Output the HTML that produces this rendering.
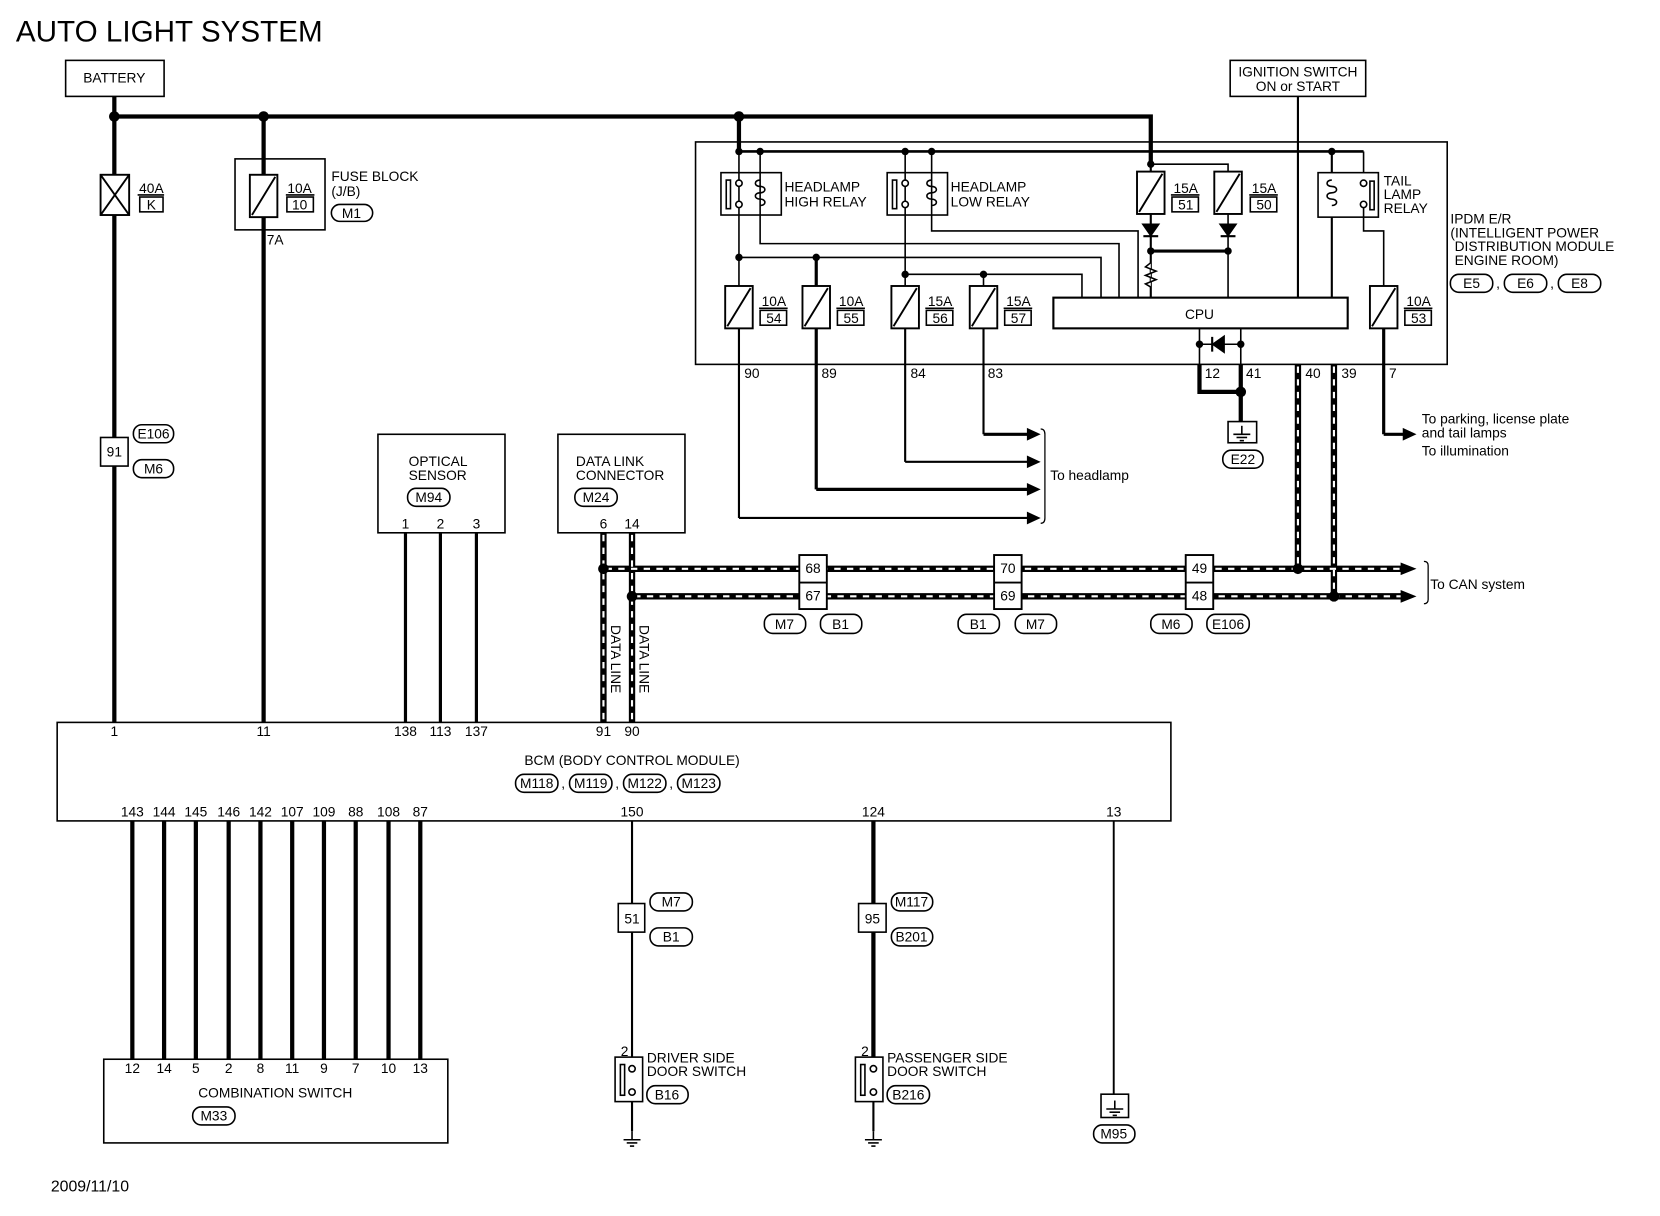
<!DOCTYPE html>
<html><head><meta charset="utf-8"><style>
html,body{margin:0;padding:0;background:#fff;}
svg{display:block;}
text{font-family:"Liberation Sans",sans-serif;font-size:13px;fill:#000;}
</style></head><body>
<svg width="1660" height="1216" viewBox="0 0 1568 1148" preserveAspectRatio="none" xmlns="http://www.w3.org/2000/svg">
<defs>
<g id="fuse"><rect x="-13" y="0" width="26" height="40" fill="#fff" stroke="#000" stroke-width="1.8"/><line x1="-11" y1="38" x2="11" y2="2" stroke="#000" stroke-width="1.8"/></g>
<g id="dot"><circle r="5" fill="#000"/></g>
<g id="sdot"><circle r="3.5" fill="#000"/></g>
<g id="gnd"><line x1="0" y1="0" x2="0" y2="8" stroke="#000" stroke-width="1.5"/><line x1="-8" y1="8" x2="8" y2="8" stroke="#000" stroke-width="1.5"/><line x1="-5" y1="11" x2="5" y2="11" stroke="#000" stroke-width="1.5"/><line x1="-2" y1="14" x2="2" y2="14" stroke="#000" stroke-width="1.5"/></g>
</defs>
<g fill="none" stroke="#000">
<rect x="62" y="57" width="93" height="34" stroke-width="1.5"/>
<polyline points="108,91 108,682" stroke-width="4"/>
<polyline points="108,110 1087,110 1087,155" stroke-width="4"/>
<line x1="249" y1="110" x2="249" y2="682" stroke-width="4"/>
<line x1="698" y1="110" x2="698" y2="143" stroke-width="4"/>
<rect x="95" y="165" width="27" height="38" fill="#fff" stroke-width="1.8"/>
<line x1="95" y1="165" x2="122" y2="203" stroke-width="1.8"/><line x1="122" y1="165" x2="95" y2="203" stroke-width="1.8"/>
<line x1="130" y1="184" x2="155" y2="184" stroke-width="1.5"/>
<rect x="132" y="186" width="22" height="14" stroke-width="1.5"/>
<rect x="222" y="150" width="85" height="67" stroke-width="1.5"/>
<line x1="270" y1="184" x2="297" y2="184" stroke-width="1.5"/>
<rect x="271" y="186" width="25" height="14" stroke-width="1.5"/>
<rect x="313" y="193" width="39" height="16" rx="8" stroke-width="1.5"/>
<rect x="95" y="413" width="26" height="27" fill="#fff" stroke-width="1.5"/>
<rect x="126" y="401" width="38" height="17" rx="8" stroke-width="1.5"/>
<rect x="126" y="434" width="38" height="17" rx="8" stroke-width="1.5"/>
<rect x="1162" y="57" width="128" height="34" stroke-width="1.5"/>
<line x1="1226" y1="91" x2="1226" y2="281" stroke-width="2"/>
<rect x="657" y="134" width="710" height="210" stroke-width="1.5"/>
<line x1="698" y1="143" x2="1288" y2="143" stroke-width="2.5"/>
<polyline points="1087,155 1160,155 1160,162" stroke-width="1.5"/>
<rect x="681" y="163" width="57" height="40" stroke-width="1.5"/>
<line x1="718" y1="143" x2="718" y2="203" stroke-width="1.5"/>
<line x1="698" y1="143" x2="698" y2="270" stroke-width="1.5"/>
<polyline points="718,203 718,230 1057,230 1057,281" stroke-width="1.5"/>
<polyline points="698,243 1040,243 1040,281" stroke-width="1.5"/>
<line x1="771" y1="243" x2="771" y2="270" stroke-width="3"/>
<rect x="838" y="163" width="57" height="40" stroke-width="1.5"/>
<line x1="880" y1="143" x2="880" y2="203" stroke-width="1.5"/>
<line x1="855" y1="143" x2="855" y2="270" stroke-width="1.5"/>
<polyline points="880,203 880,218 1075,218 1075,281" stroke-width="1.5"/>
<polyline points="855,259 1022,259 1022,281" stroke-width="1.5"/>
<line x1="929" y1="259" x2="929" y2="270" stroke-width="1.5"/>
<line x1="1087" y1="155" x2="1087" y2="281" stroke-width="2"/>
<line x1="1160" y1="162" x2="1160" y2="281" stroke-width="1.5"/>
<line x1="1087" y1="237" x2="1160" y2="237" stroke-width="3"/>
<polyline points="1087,248 1082,252 1092,256 1082,260 1092,264 1082,268 1087,271" fill="#fff" stroke-width="1.5"/>
<line x1="1258" y1="143" x2="1258" y2="281" stroke-width="2"/>
<line x1="1288" y1="143" x2="1288" y2="163" stroke-width="1.5"/>
<rect x="1245" y="163" width="57" height="42" fill="#fff" stroke-width="1.5"/>
<polyline points="1288,193 1288,218 1307,218 1307,270" stroke-width="1.5"/>
<rect x="995" y="281" width="278" height="29" fill="#fff" stroke-width="2"/>
<line x1="1133" y1="310" x2="1133" y2="344" stroke-width="1.5"/>
<line x1="1172" y1="310" x2="1172" y2="344" stroke-width="1.5"/>
<line x1="1133" y1="325" x2="1172" y2="325" stroke-width="1.5"/>
<line x1="698" y1="310" x2="698" y2="489" stroke-width="2"/>
<line x1="771" y1="310" x2="771" y2="462" stroke-width="3"/>
<line x1="855" y1="310" x2="855" y2="436" stroke-width="2"/>
<line x1="929" y1="310" x2="929" y2="410" stroke-width="2"/>
<line x1="698" y1="489" x2="972" y2="489" stroke-width="2"/>
<line x1="771" y1="462" x2="972" y2="462" stroke-width="3"/>
<line x1="855" y1="436" x2="972" y2="436" stroke-width="2"/>
<line x1="929" y1="410" x2="972" y2="410" stroke-width="3"/>
<path d="M983,405 Q987,405 987,410 L987,489 Q987,494 983,494" stroke-width="1.2"/>
<line x1="1307" y1="310" x2="1307" y2="410" stroke-width="3"/>
<line x1="1307" y1="410" x2="1330" y2="410" stroke-width="3"/>
<polyline points="1133,344 1133,370 1172,370" stroke-width="4"/>
<line x1="1172" y1="344" x2="1172" y2="398" stroke-width="4"/>
<rect x="1160" y="398" width="27" height="20" stroke-width="1.5"/>
<rect x="1155" y="425" width="38" height="17" rx="8" stroke-width="1.5"/>
<rect x="1370" y="259" width="40" height="17" rx="8" stroke-width="1.5"/>
<rect x="1421" y="259" width="40" height="17" rx="8" stroke-width="1.5"/>
<rect x="1472" y="259" width="40" height="17" rx="8" stroke-width="1.5"/>
<rect x="357" y="410" width="120" height="93" stroke-width="1.5"/>
<rect x="385" y="461" width="40" height="17" rx="8" stroke-width="1.5"/>
<line x1="383" y1="503" x2="383" y2="682" stroke-width="3"/>
<line x1="416" y1="503" x2="416" y2="682" stroke-width="3"/>
<line x1="450" y1="503" x2="450" y2="682" stroke-width="3"/>
<rect x="527" y="410" width="120" height="93" stroke-width="1.5"/>
<rect x="543" y="461" width="40" height="17" rx="8" stroke-width="1.5"/>
<g stroke-width="6">
<line x1="570" y1="503" x2="570" y2="682"/><line x1="597" y1="503" x2="597" y2="682"/>
<line x1="570" y1="537" x2="1325" y2="537"/><line x1="597" y1="563" x2="1325" y2="563"/>
<line x1="1226" y1="344" x2="1226" y2="537"/><line x1="1260" y1="344" x2="1260" y2="563"/>
</g>
<g stroke="#fff" stroke-width="2" stroke-dasharray="6,6">
<line x1="570" y1="505" x2="570" y2="680"/><line x1="597" y1="505" x2="597" y2="680"/>
<line x1="572" y1="537" x2="1325" y2="537"/><line x1="599" y1="563" x2="1325" y2="563"/>
<line x1="1226" y1="346" x2="1226" y2="535"/><line x1="1260" y1="346" x2="1260" y2="561"/>
</g>
<path d="M1345,530 Q1349,530 1349,534 L1349,566 Q1349,570 1345,570" stroke-width="1.2"/>
<rect x="755" y="524" width="26" height="51" fill="#fff" stroke-width="1.8"/><line x1="755" y1="550" x2="781" y2="550" stroke-width="1.8"/>
<rect x="939" y="524" width="26" height="51" fill="#fff" stroke-width="1.8"/><line x1="939" y1="550" x2="965" y2="550" stroke-width="1.8"/>
<rect x="1120" y="524" width="26" height="51" fill="#fff" stroke-width="1.8"/><line x1="1120" y1="550" x2="1146" y2="550" stroke-width="1.8"/>
<rect x="722" y="580" width="39" height="18" rx="8" stroke-width="1.5"/><rect x="775" y="580" width="39" height="18" rx="8" stroke-width="1.5"/>
<rect x="905" y="580" width="39" height="18" rx="8" stroke-width="1.5"/><rect x="959" y="580" width="39" height="18" rx="8" stroke-width="1.5"/>
<rect x="1087" y="580" width="39" height="18" rx="8" stroke-width="1.5"/><rect x="1140" y="580" width="40" height="18" rx="8" stroke-width="1.5"/>
<rect x="54" y="682" width="1052" height="93" stroke-width="1.5"/>
<rect x="487" y="731" width="40" height="17" rx="8" stroke-width="1.5"/>
<rect x="538" y="731" width="40" height="17" rx="8" stroke-width="1.5"/>
<rect x="589" y="731" width="40" height="17" rx="8" stroke-width="1.5"/>
<rect x="640" y="731" width="40" height="17" rx="8" stroke-width="1.5"/>
<g stroke-width="4">
<line x1="125" y1="775" x2="125" y2="1000"/><line x1="155" y1="775" x2="155" y2="1000"/>
<line x1="185" y1="775" x2="185" y2="1000"/><line x1="216" y1="775" x2="216" y2="1000"/>
<line x1="246" y1="775" x2="246" y2="1000"/><line x1="276" y1="775" x2="276" y2="1000"/>
<line x1="306" y1="775" x2="306" y2="1000"/><line x1="336" y1="775" x2="336" y2="1000"/>
<line x1="367" y1="775" x2="367" y2="1000"/><line x1="397" y1="775" x2="397" y2="1000"/>
<line x1="825" y1="775" x2="825" y2="1010"/>
</g>
<line x1="597" y1="775" x2="597" y2="1068" stroke-width="2"/>
<line x1="825" y1="1010" x2="825" y2="1068" stroke-width="2"/>
<line x1="1052" y1="775" x2="1052" y2="1033" stroke-width="1.8"/>
<rect x="98" y="1000" width="325" height="79" stroke-width="1.5"/>
<rect x="182" y="1045" width="40" height="17" rx="8" stroke-width="1.5"/>
<rect x="584" y="853" width="25" height="27" fill="#fff" stroke-width="1.5"/>
<rect x="614" y="843" width="40" height="17" rx="8" stroke-width="1.5"/><rect x="614" y="876" width="40" height="17" rx="8" stroke-width="1.5"/>
<rect x="811" y="853" width="26" height="27" fill="#fff" stroke-width="1.5"/>
<rect x="842" y="843" width="39" height="17" rx="8" stroke-width="1.5"/><rect x="842" y="876" width="39" height="17" rx="8" stroke-width="1.5"/>
<rect x="581" y="998" width="26" height="42" fill="#fff" stroke-width="1.5"/>
<rect x="611" y="1025" width="39" height="17" rx="8" stroke-width="1.5"/>
<rect x="808" y="998" width="26" height="42" fill="#fff" stroke-width="1.5"/>
<rect x="838" y="1025" width="40" height="17" rx="8" stroke-width="1.5"/>
<rect x="1040" y="1033" width="26" height="22" stroke-width="1.5"/>
<rect x="1033" y="1062" width="39" height="17" rx="8" stroke-width="1.5"/>
</g>
<use href="#fuse" x="249" y="165"/>
<use href="#fuse" x="1087" y="162"/><use href="#fuse" x="1160" y="162"/>
<use href="#fuse" x="698" y="270"/><use href="#fuse" x="771" y="270"/>
<use href="#fuse" x="855" y="270"/><use href="#fuse" x="929" y="270"/>
<use href="#fuse" x="1307" y="270"/>
<g fill="none" stroke="#000" stroke-width="1.5">
<line x1="1106" y1="184" x2="1133" y2="184"/><rect x="1107" y="186" width="25" height="14"/>
<line x1="1180" y1="184" x2="1207" y2="184"/><rect x="1181" y="186" width="25" height="14"/>
<line x1="717" y1="291" x2="744" y2="291"/><rect x="718" y="293" width="25" height="14"/>
<line x1="790" y1="291" x2="817" y2="291"/><rect x="791" y="293" width="25" height="14"/>
<line x1="874" y1="291" x2="901" y2="291"/><rect x="875" y="293" width="25" height="14"/>
<line x1="948" y1="291" x2="975" y2="291"/><rect x="949" y="293" width="25" height="14"/>
<line x1="1326" y1="291" x2="1353" y2="291"/><rect x="1327" y="293" width="25" height="14"/>
<rect x="686" y="170" width="4" height="27"/><circle cx="698" cy="173" r="3" fill="#fff"/><circle cx="698" cy="193" r="3" fill="#fff"/>
<path d="M718,170 c-6,0 -6,6 0,6 c6,0 6,6 0,6 c-6,0 -6,6 0,6 c6,0 6,6 0,6"/>
<rect x="843" y="170" width="4" height="27"/><circle cx="855" cy="173" r="3" fill="#fff"/><circle cx="855" cy="193" r="3" fill="#fff"/>
<path d="M880,170 c-6,0 -6,6 0,6 c6,0 6,6 0,6 c-6,0 -6,6 0,6 c6,0 6,6 0,6"/>
<rect x="1294" y="171" width="4" height="27"/><circle cx="1288" cy="173" r="3" fill="#fff"/><circle cx="1288" cy="193" r="3" fill="#fff"/>
<path d="M1258,170 c-6,0 -6,6 0,6 c6,0 6,6 0,6 c-6,0 -6,6 0,6 c6,0 6,6 0,6"/>
<rect x="586" y="1005" width="4" height="29"/><circle cx="597" cy="1009" r="3" fill="#fff"/><circle cx="597" cy="1031" r="3" fill="#fff"/>
<rect x="813" y="1005" width="4" height="29"/><circle cx="825" cy="1009" r="3" fill="#fff"/><circle cx="825" cy="1031" r="3" fill="#fff"/>
</g>
<path d="M1080,212 L1094,212 L1087,222 Z M1080,223 L1094,223" fill="#000" stroke="#000" stroke-width="2"/>
<path d="M1153,212 L1167,212 L1160,222 Z M1153,223 L1167,223" fill="#000" stroke="#000" stroke-width="2"/>
<path d="M1146,325 L1156,318 L1156,332 Z M1145,318 L1145,332" fill="#000" stroke="#000" stroke-width="2"/>
<g fill="#000">
<path d="M970,404 L983,410 L970,416 Z"/><path d="M970,430 L983,436 L970,442 Z"/>
<path d="M970,456 L983,462 L970,468 Z"/><path d="M970,483 L983,489 L970,495 Z"/>
<path d="M1325,404 L1338,410 L1325,416 Z"/>
<path d="M1323,531 L1338,537 L1323,543 Z"/><path d="M1323,557 L1338,563 L1323,569 Z"/>
</g>
<use href="#dot" x="108" y="110"/><use href="#dot" x="249" y="110"/><use href="#dot" x="698" y="110"/>
<use href="#sdot" x="698" y="143"/><use href="#sdot" x="718" y="143"/><use href="#sdot" x="855" y="143"/><use href="#sdot" x="880" y="143"/>
<use href="#sdot" x="1087" y="155"/><use href="#sdot" x="1258" y="143"/>
<use href="#sdot" x="698" y="243"/><use href="#sdot" x="771" y="243"/><use href="#sdot" x="855" y="259"/><use href="#sdot" x="929" y="259"/>
<use href="#sdot" x="1087" y="237"/><use href="#sdot" x="1160" y="237"/>
<use href="#sdot" x="1133" y="325"/><use href="#sdot" x="1172" y="325"/>
<use href="#dot" x="1172" y="370"/>
<use href="#dot" x="570" y="537"/><use href="#dot" x="597" y="563"/><use href="#dot" x="1226" y="537"/><use href="#dot" x="1260" y="563"/>
<use href="#gnd" x="1173" y="402"/>
<use href="#gnd" x="597" y="1068"/><use href="#gnd" x="825" y="1068"/><use href="#gnd" x="1053" y="1039"/>
<text x="15" y="39" style="font-size:28px">AUTO LIGHT SYSTEM</text>
<text x="108" y="78" text-anchor="middle">BATTERY</text>
<text x="143" y="182" text-anchor="middle">40A</text><text x="143" y="198" text-anchor="middle">K</text>
<text x="283" y="182" text-anchor="middle">10A</text><text x="283" y="198" text-anchor="middle">10</text>
<text x="313" y="171">FUSE BLOCK</text><text x="313" y="185">(J/B)</text><text x="332" y="206" text-anchor="middle">M1</text>
<text x="252" y="231">7A</text>
<text x="108" y="431" text-anchor="middle">91</text>
<text x="145" y="414" text-anchor="middle">E106</text><text x="145" y="447" text-anchor="middle">M6</text>
<text x="1226" y="72" text-anchor="middle">IGNITION SWITCH</text><text x="1226" y="86" text-anchor="middle">ON or START</text>
<text x="741" y="181">HEADLAMP</text><text x="741" y="195">HIGH RELAY</text>
<text x="898" y="181">HEADLAMP</text><text x="898" y="195">LOW RELAY</text>
<text x="1120" y="182" text-anchor="middle">15A</text><text x="1120" y="198" text-anchor="middle">51</text>
<text x="1194" y="182" text-anchor="middle">15A</text><text x="1194" y="198" text-anchor="middle">50</text>
<text x="1307" y="175">TAIL</text><text x="1307" y="188">LAMP</text><text x="1307" y="201">RELAY</text>
<text x="731" y="289" text-anchor="middle">10A</text><text x="731" y="305" text-anchor="middle">54</text>
<text x="804" y="289" text-anchor="middle">10A</text><text x="804" y="305" text-anchor="middle">55</text>
<text x="888" y="289" text-anchor="middle">15A</text><text x="888" y="305" text-anchor="middle">56</text>
<text x="962" y="289" text-anchor="middle">15A</text><text x="962" y="305" text-anchor="middle">57</text>
<text x="1340" y="289" text-anchor="middle">10A</text><text x="1340" y="305" text-anchor="middle">53</text>
<text x="1133" y="301" text-anchor="middle">CPU</text>
<text x="1370" y="211">IPDM E/R</text><text x="1370" y="224">(INTELLIGENT POWER</text><text x="1374" y="237">DISTRIBUTION MODULE</text><text x="1374" y="250">ENGINE ROOM)</text>
<text x="1390" y="272" text-anchor="middle">E5</text><text x="1415" y="272" text-anchor="middle">,</text>
<text x="1441" y="272" text-anchor="middle">E6</text><text x="1466" y="272" text-anchor="middle">,</text>
<text x="1492" y="272" text-anchor="middle">E8</text>
<text x="703" y="357">90</text><text x="776" y="357">89</text><text x="860" y="357">84</text><text x="933" y="357">83</text>
<text x="1138" y="357">12</text><text x="1177" y="357">41</text><text x="1233" y="357">40</text><text x="1267" y="357">39</text><text x="1312" y="357">7</text>
<text x="1174" y="438" text-anchor="middle">E22</text>
<text x="992" y="453">To headlamp</text>
<text x="1343" y="400">To parking, license plate</text><text x="1343" y="413">and tail lamps</text><text x="1343" y="430">To illumination</text>
<text x="386" y="440">OPTICAL</text><text x="386" y="453">SENSOR</text><text x="405" y="474" text-anchor="middle">M94</text>
<text x="383" y="499" text-anchor="middle">1</text><text x="416" y="499" text-anchor="middle">2</text><text x="450" y="499" text-anchor="middle">3</text>
<text x="544" y="440">DATA LINK</text><text x="544" y="453">CONNECTOR</text><text x="563" y="474" text-anchor="middle">M24</text>
<text x="570" y="499" text-anchor="middle">6</text><text x="597" y="499" text-anchor="middle">14</text>
<text transform="translate(577,590) rotate(90)">DATA LINE</text>
<text transform="translate(604,590) rotate(90)">DATA LINE</text>
<text x="768" y="541" text-anchor="middle">68</text><text x="768" y="567" text-anchor="middle">67</text>
<text x="952" y="541" text-anchor="middle">70</text><text x="952" y="567" text-anchor="middle">69</text>
<text x="1133" y="541" text-anchor="middle">49</text><text x="1133" y="567" text-anchor="middle">48</text>
<text x="741" y="594" text-anchor="middle">M7</text><text x="794" y="594" text-anchor="middle">B1</text>
<text x="924" y="594" text-anchor="middle">B1</text><text x="978" y="594" text-anchor="middle">M7</text>
<text x="1106" y="594" text-anchor="middle">M6</text><text x="1160" y="594" text-anchor="middle">E106</text>
<text x="1351" y="556">To CAN system</text>
<text x="108" y="695" text-anchor="middle">1</text><text x="249" y="695" text-anchor="middle">11</text>
<text x="383" y="695" text-anchor="middle">138</text><text x="416" y="695" text-anchor="middle">113</text><text x="450" y="695" text-anchor="middle">137</text>
<text x="570" y="695" text-anchor="middle">91</text><text x="597" y="695" text-anchor="middle">90</text>
<text x="597" y="722" text-anchor="middle">BCM (BODY CONTROL MODULE)</text>
<text x="507" y="744" text-anchor="middle">M118</text><text x="532" y="744" text-anchor="middle">,</text>
<text x="558" y="744" text-anchor="middle">M119</text><text x="583" y="744" text-anchor="middle">,</text>
<text x="609" y="744" text-anchor="middle">M122</text><text x="634" y="744" text-anchor="middle">,</text>
<text x="660" y="744" text-anchor="middle">M123</text>
<text x="125" y="771" text-anchor="middle">143</text><text x="155" y="771" text-anchor="middle">144</text>
<text x="185" y="771" text-anchor="middle">145</text><text x="216" y="771" text-anchor="middle">146</text>
<text x="246" y="771" text-anchor="middle">142</text><text x="276" y="771" text-anchor="middle">107</text>
<text x="306" y="771" text-anchor="middle">109</text><text x="336" y="771" text-anchor="middle">88</text>
<text x="367" y="771" text-anchor="middle">108</text><text x="397" y="771" text-anchor="middle">87</text>
<text x="597" y="771" text-anchor="middle">150</text><text x="825" y="771" text-anchor="middle">124</text><text x="1052" y="771" text-anchor="middle">13</text>
<text x="597" y="872" text-anchor="middle">51</text><text x="634" y="856" text-anchor="middle">M7</text><text x="634" y="889" text-anchor="middle">B1</text>
<text x="824" y="872" text-anchor="middle">95</text><text x="861" y="856" text-anchor="middle">M117</text><text x="861" y="889" text-anchor="middle">B201</text>
<text x="125" y="1013" text-anchor="middle">12</text><text x="155" y="1013" text-anchor="middle">14</text>
<text x="185" y="1013" text-anchor="middle">5</text><text x="216" y="1013" text-anchor="middle">2</text>
<text x="246" y="1013" text-anchor="middle">8</text><text x="276" y="1013" text-anchor="middle">11</text>
<text x="306" y="1013" text-anchor="middle">9</text><text x="336" y="1013" text-anchor="middle">7</text>
<text x="367" y="1013" text-anchor="middle">10</text><text x="397" y="1013" text-anchor="middle">13</text>
<text x="260" y="1036" text-anchor="middle">COMBINATION SWITCH</text><text x="202" y="1058" text-anchor="middle">M33</text>
<text x="590" y="997" text-anchor="middle">2</text><text x="817" y="997" text-anchor="middle">2</text>
<text x="611" y="1003">DRIVER SIDE</text><text x="611" y="1016">DOOR SWITCH</text><text x="630" y="1038" text-anchor="middle">B16</text>
<text x="838" y="1003">PASSENGER SIDE</text><text x="838" y="1016">DOOR SWITCH</text><text x="858" y="1038" text-anchor="middle">B216</text>
<text x="1052" y="1075" text-anchor="middle">M95</text>
<text x="48" y="1125" style="font-size:15px">2009/11/10</text>
</svg>
</body></html>
